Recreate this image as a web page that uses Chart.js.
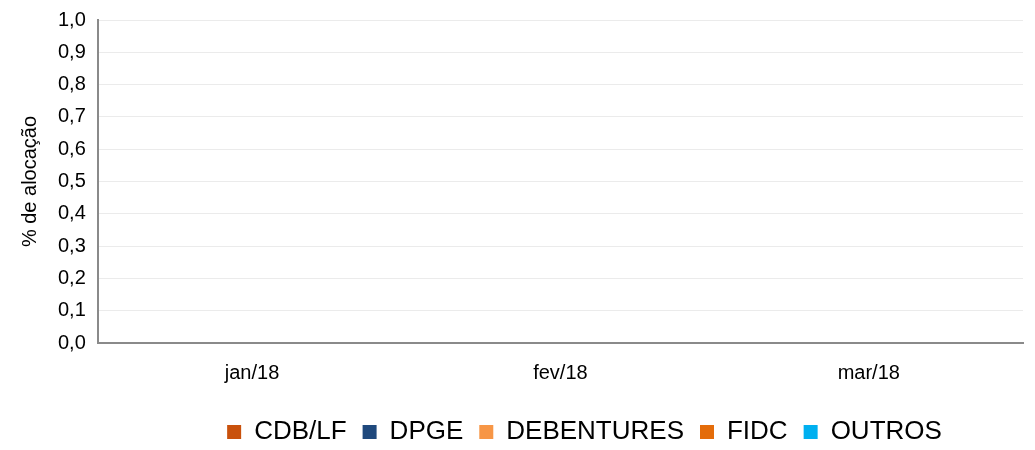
<!DOCTYPE html>
<html>
<head>
<meta charset="utf-8">
<script src="https://cdn.jsdelivr.net/npm/chart.js@4/dist/chart.umd.min.js"></script>
<style>
  body { margin: 0; background: #fff; }
  #wrap { width: 1035px; height: 450px; }
</style>
</head>
<body>
<div id="wrap"><canvas id="grafico"></canvas></div>
<script>
// meses e séries (todas zeradas no original)
const meses = ['jan/18', 'fev/18', 'mar/18'];
const cdbLf = [0, 0, 0];
const dpge = [0, 0, 0];
const debentures = [0, 0, 0];
const fidc = [0, 0, 0];
const outros = [0, 0, 0];

const nomes = ['CDB/LF', 'DPGE', 'DEBENTURES', 'FIDC', 'OUTROS'];
const cores = ['#C9510C', '#1F497D', '#F79646', '#E46C0A', '#00B0F0'];
const series = [cdbLf, dpge, debentures, fidc, outros];

const fonte = 'Arial, "Liberation Sans", sans-serif';

const data = {
  labels: meses,
  datasets: series.map((s, i) => ({
    label: nomes[i],
    data: s,
    backgroundColor: cores[i],
    borderWidth: 0
  }))
};

// a legenda do original fica deslocada para a direita e um pouco mais baixa
const moveLegenda = {
  id: 'moveLegenda',
  afterLayout(chart) {
    const lg = chart.legend;
    if (!lg) return;
    lg.left += 64;
    lg.right += 64;
    lg.top += 5;
    lg.bottom += 5;
  }
};

const config = {
  type: 'bar',
  data: data,
  options: {
    responsive: false,
    animation: false,
    layout: { padding: { top: 20, right: 12, left: 18, bottom: 0 } },
    plugins: {
      legend: {
        position: 'bottom',
        labels: {
          font: { family: fonte, size: 26 },
          color: '#000',
          boxWidth: 14,
          boxHeight: 14,
          padding: 16
        }
      },
      tooltip: { enabled: false }
    },
    scales: {
      x: {
        stacked: true,
        grid: { display: false },
        border: { color: '#8a8a8a', width: 2 },
        ticks: {
          font: { family: fonte, size: 20 },
          color: '#000',
          padding: 10
        },
        afterFit: s => { s.height += 3; }
      },
      y: {
        stacked: true,
        min: 0,
        max: 1,
        grid: { color: '#ebebeb', drawTicks: false },
        border: { color: '#8a8a8a', width: 2 },
        ticks: {
          stepSize: 0.1,
          padding: 12,
          font: { family: fonte, size: 20 },
          color: '#000',
          callback: v => v.toFixed(1).replace('.', ',')
        },
        title: {
          display: true,
          text: '% de alocação',
          font: { family: fonte, size: 20 },
          color: '#000',
          padding: { top: 0, bottom: 4 }
        },
        afterFit: s => { s.paddingTop = 0; s.paddingBottom = 0; }
      }
    }
  },
  plugins: [moveLegenda]
};

const canvas = document.getElementById('grafico');
canvas.width = 1035;
canvas.height = 450;
new Chart(canvas, config);
</script>
</body>
</html>
